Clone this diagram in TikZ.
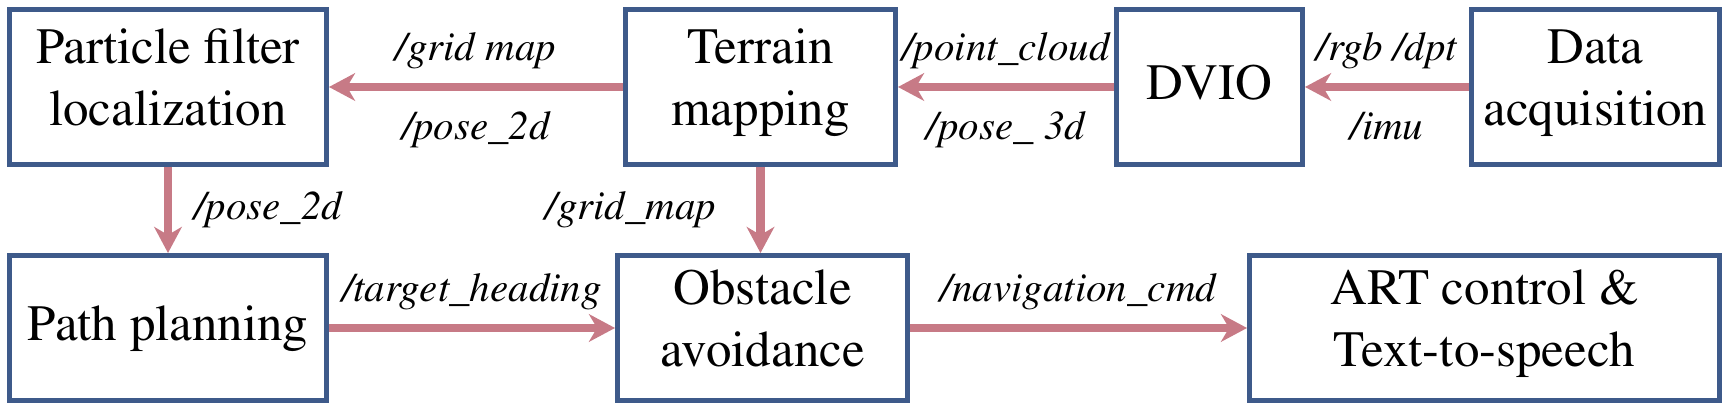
\documentclass[tikz,border=0pt]{standalone}
\usepackage[T1]{fontenc}
\usepackage{mathptmx}
\usepackage{xcolor}
\usetikzlibrary{arrows, arrows.meta}
\usetikzlibrary{positioning}
\usetikzlibrary{calc}
\definecolor{boxblue}{RGB}{62,90,138}
\definecolor{flowpink}{RGB}{199,122,134}

\begin{document}
\begin{tikzpicture}[x=0.02cm, y=0.02cm,
		module/.style={draw=boxblue, line width=0.09cm, inner sep=0pt, align=center,
			minimum height=3.11cm, font=\fontsize{29}{35.3}\selectfont,
			execute at begin node=\strut, execute at end node=\strut},
		lowmodule/.style={module, minimum height=2.91cm},
		flow/.style={draw=flowpink, line width=0.17cm,
			-{Stealth[length=0.52cm, width=0.55cm, inset=0.16cm]}},
		topic/.style={inner sep=0pt, font=\fontsize{23.3}{28}\selectfont\itshape},
		topicup/.style={topic, midway, anchor=base, yshift=0.54cm},
		topicdown/.style={topic, midway, anchor=base, yshift=-1.06cm}]
			\useasboundingbox (0,0) rectangle (1732,409);
			
			%top row
			\node[module, minimum width=6.35cm] (pf) at (168,322) {Particle filter\\localization};
			\node[module, minimum width=5.41cm] (tm) at (760.5,322) {Terrain\\mapping};
			\node[module, minimum width=3.73cm] (dvio) at (1209.5,322) {DVIO};
			\node[module, minimum width=4.97cm] (da) at (1595.5,322) {Data\\acquisition};
			
			%bottom row
			\node[lowmodule, minimum width=6.35cm] (pp) at (168,81) {Path planning};
			\node[lowmodule, minimum width=5.81cm] (oa) at (762.5,81) {Obstacle\\avoidance};
			\node[lowmodule, minimum width=9.41cm] (art) at (1484.5,81) {ART control \&\\Text-to-speech};
			
			% add arrow
			\draw[flow] (da) -- (dvio) node[topicup] {/rgb /dpt} node[topicdown] {/imu};
			\draw[flow] (dvio) -- (tm) node[topicup] {/point\_cloud} node[topicdown] {/pose\_ 3d};
			\draw[flow] (tm) -- (pf) node[topicup] {/grid map} node[topicdown] {/pose\_2d};
			\draw[flow] (pf) -- (pp) node[topic, midway, anchor=west, xshift=0.44cm] {/pose\_2d};
			\draw[flow] (tm.south) -- (tm.south |- oa.north) node[topic, midway, anchor=east, xshift=-0.8cm] {/grid\_map};
			\draw[flow] (pp) -- (oa) node[topicup] {/target\_heading};
			\draw[flow] (oa) -- (art) node[topicup] {/navigation\_cmd};
			
		\end{tikzpicture}
\end{document}
